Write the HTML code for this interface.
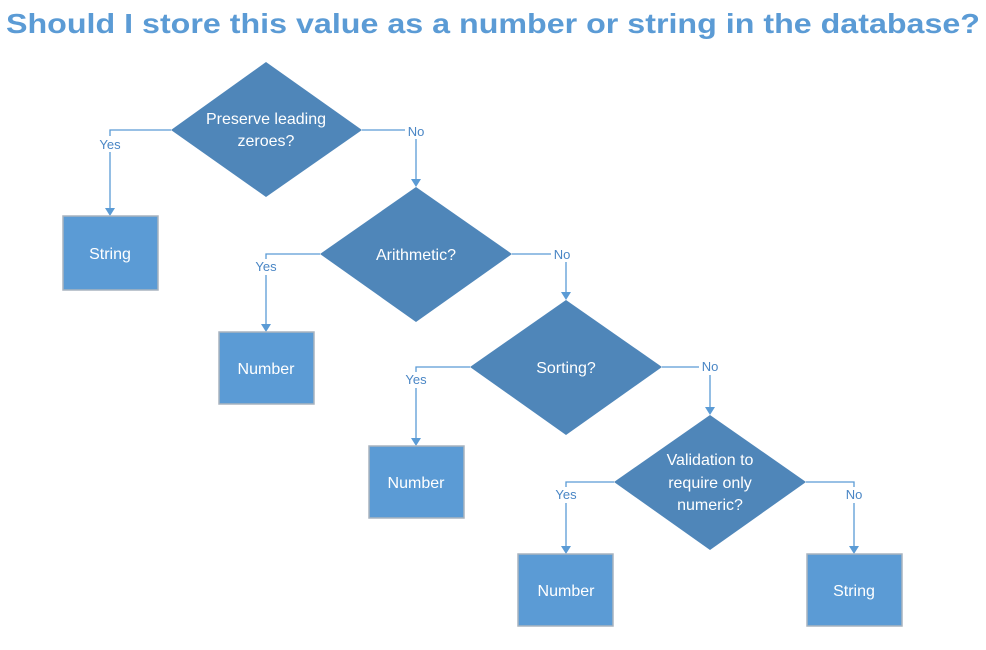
<!DOCTYPE html>
<html><head><meta charset="utf-8"><style>
html,body{margin:0;padding:0;background:#fff;}
svg{display:block;font-family:"Liberation Sans",sans-serif;}
.d{fill:#4F86B9;}
.b{fill:#5B9BD5;stroke:#A9B4BF;stroke-width:1.5;}
.l{stroke:#5B9BD5;stroke-width:1.3;fill:none;}
.a{fill:#5B9BD5;}
.t{fill:#fff;font-size:16px;text-anchor:middle;}
.lb{fill:#4A86C5;font-size:13px;text-anchor:middle;}
</style></head><body>
<svg width="986" height="650" viewBox="0 0 986 650">
<text x="6" y="33" font-size="28" font-weight="bold" fill="#5B9BD5" textLength="974" lengthAdjust="spacingAndGlyphs">Should I store this value as a number or string in the database?</text>

<!-- connectors -->
<path class="l" d="M171 130 H110 V210"/><polygon class="a" points="105,208 115,208 110,216"/>
<path class="l" d="M362 130 H416 V181"/><polygon class="a" points="411,179 421,179 416,187"/>
<path class="l" d="M320 254 H266 V326"/><polygon class="a" points="261,324 271,324 266,332"/>
<path class="l" d="M512 254 H566 V294"/><polygon class="a" points="561,292 571,292 566,300"/>
<path class="l" d="M470 367 H416 V440"/><polygon class="a" points="411,438 421,438 416,446"/>
<path class="l" d="M662 367 H710 V409"/><polygon class="a" points="705,407 715,407 710,415"/>
<path class="l" d="M614 482 H566 V548"/><polygon class="a" points="561,546 571,546 566,554"/>
<path class="l" d="M806 482 H854 V548"/><polygon class="a" points="849,546 859,546 854,554"/>

<!-- labels -->
<rect x="96" y="136" width="28" height="16" fill="#fff"/><text class="lb" x="110" y="149">Yes</text>
<rect x="405" y="123" width="22" height="16" fill="#fff"/><text class="lb" x="416" y="136">No</text>
<rect x="252" y="259" width="28" height="16" fill="#fff"/><text class="lb" x="266" y="271">Yes</text>
<rect x="551" y="246" width="22" height="16" fill="#fff"/><text class="lb" x="562" y="259">No</text>
<rect x="402" y="372" width="28" height="16" fill="#fff"/><text class="lb" x="416" y="384">Yes</text>
<rect x="699" y="359" width="22" height="16" fill="#fff"/><text class="lb" x="710" y="371">No</text>
<rect x="552" y="487" width="28" height="16" fill="#fff"/><text class="lb" x="566" y="499">Yes</text>
<rect x="843" y="487" width="22" height="16" fill="#fff"/><text class="lb" x="854" y="499">No</text>

<!-- diamonds -->
<polygon class="d" points="266,62 362,130 266,197 171,130"/>
<text class="t" x="266" y="124">Preserve leading</text><text class="t" x="266" y="146">zeroes?</text>
<polygon class="d" points="416,187 512,254 416,322 320,254"/>
<text class="t" x="416" y="260">Arithmetic?</text>
<polygon class="d" points="566,300 662,367 566,435 470,367"/>
<text class="t" x="566" y="373">Sorting?</text>
<polygon class="d" points="710,415 806,482 710,550 614,482"/>
<text class="t" x="710" y="465">Validation to</text><text class="t" x="710" y="488">require only</text><text class="t" x="710" y="510">numeric?</text>

<!-- boxes -->
<rect class="b" x="63" y="216" width="95" height="74"/><text class="t" x="110" y="259">String</text>
<rect class="b" x="219" y="332" width="95" height="72"/><text class="t" x="266" y="374">Number</text>
<rect class="b" x="369" y="446" width="95" height="72"/><text class="t" x="416" y="488">Number</text>
<rect class="b" x="518" y="554" width="95" height="72"/><text class="t" x="566" y="596">Number</text>
<rect class="b" x="807" y="554" width="95" height="72"/><text class="t" x="854" y="596">String</text>
</svg>
</body></html>
